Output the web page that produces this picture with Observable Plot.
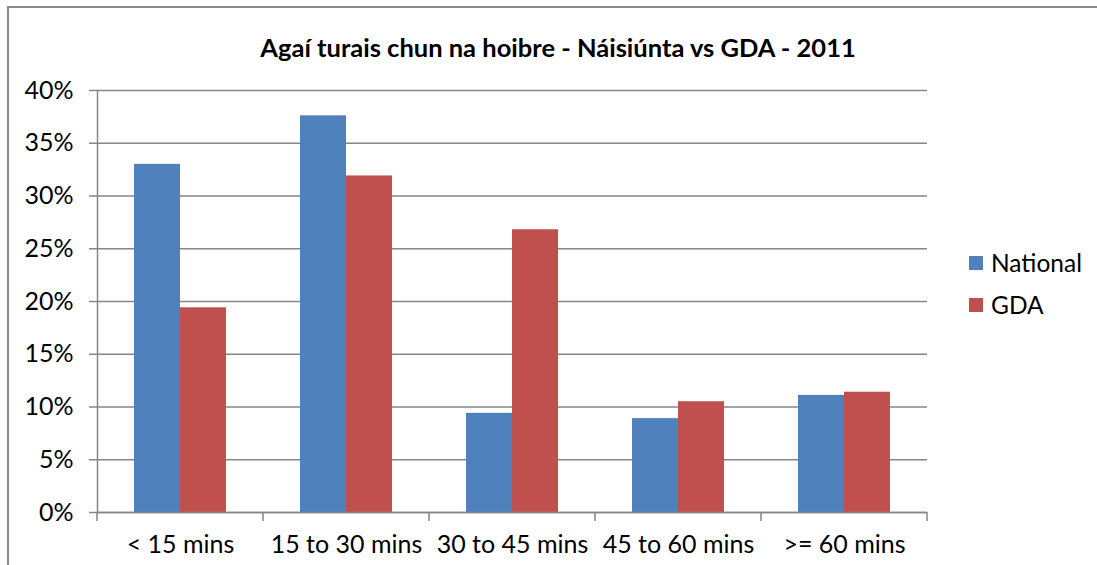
<!DOCTYPE html>
<html><head><meta charset="utf-8">
<script src="https://cdn.jsdelivr.net/npm/d3@7"></script>
<script src="https://cdn.jsdelivr.net/npm/@observablehq/plot@0.6"></script>
<style>
body{margin:0;background:#fff;font-family:Lato,"Open Sans",sans-serif;}
#wrap{position:relative;width:1097px;height:565px;overflow:hidden;background:#fff;}
#border{position:absolute;left:7px;top:6px;width:1200px;height:700px;border-left:2px solid #888;border-top:2px solid #888;}
#title{position:absolute;left:0;top:31px;width:1116px;text-align:center;font-weight:bold;font-size:25.5px;line-height:32px;color:#000;}
#chart{position:absolute;left:0;top:70px;}
.leg{position:absolute;left:969px;display:flex;align-items:center;font-size:24.5px;color:#000;}
.sw{width:14px;height:14px;margin-right:8px;}
</style></head>
<body>
<div id="wrap">
  <div id="border"></div>
  <div id="title">Agaí turais chun na hoibre - Náisiúnta vs GDA - 2011</div>
  <div id="chart"></div>
  <div id="legend"></div>
</div>
<script>
const categories = ["< 15 mins", "15 to 30 mins", "30 to 45 mins", "45 to 60 mins", ">= 60 mins"];
const seriesNames = ["National", "GDA"];
const nationalValues = [33.0, 37.6, 9.4, 8.9, 11.1];
const gdaValues = [19.4, 31.9, 26.8, 10.5, 11.4];
const yTicks = [0, 5, 10, 15, 20, 25, 30, 35, 40];
const colors = ["#4F81BD", "#C0504D"];

const data = [];
categories.forEach((c, i) => {
  data.push({cat: c, series: "National", value: nationalValues[i]});
  data.push({cat: c, series: "GDA", value: gdaValues[i]});
});

const axisColor = "#868686";
const chart = Plot.plot({
  width: 1097, height: 495,
  marginLeft: 97, marginRight: 170, marginTop: 20, marginBottom: 53,
  style: {fontFamily: "Lato, 'Open Sans', sans-serif", fontSize: "25px", color: "#000", background: "transparent", overflow: "visible"},
  fx: {domain: categories, padding: 0, label: null},
  x: {domain: seriesNames, paddingInner: 0, paddingOuter: 0.766, axis: null},
  y: {domain: [0, 40], label: null},
  color: {domain: seriesNames, range: colors},
  marks: [
    Plot.gridY(yTicks, {stroke: axisColor, strokeOpacity: 1, strokeWidth: 1.5}),
    Plot.axisY(yTicks, {tickSize: 8, tickPadding: 16, stroke: axisColor, strokeWidth: 1.5, tickFormat: d => d + "%", label: null}),
    Plot.barY(data, {fx: "cat", x: "series", y: "value", fill: "series"}),
    Plot.ruleY([0], {stroke: axisColor, strokeWidth: 1.5}),
    Plot.frame({anchor: "left", stroke: axisColor, strokeWidth: 1.5, facetAnchor: "left"}),
    Plot.axisFx({anchor: "bottom", tickSize: 0, tickPadding: 23, label: null})
  ]
});
document.getElementById("chart").appendChild(chart);

// category boundary ticks below the x axis, from the library's scales
const fxs = chart.scale("fx");
const ys = chart.scale("y");
const y0 = ys.apply(0);
const bounds = categories.map(c => fxs.apply(c)).concat([fxs.apply(categories[categories.length - 1]) + fxs.bandwidth]);
d3.select(chart).append("g")
  .attr("stroke", axisColor).attr("stroke-width", 1.5)
  .selectAll("line").data(bounds).join("line")
  .attr("x1", d => d).attr("x2", d => d)
  .attr("y1", y0).attr("y2", y0 + 9);

// legend
const legend = d3.select("#legend");
seriesNames.forEach((s, i) => {
  const row = legend.append("div").attr("class", "leg").style("top", (248 + i * 42) + "px");
  row.append("div").attr("class", "sw").style("background", colors[i]);
  row.append("span").text(s);
});
</script>
</body></html>
